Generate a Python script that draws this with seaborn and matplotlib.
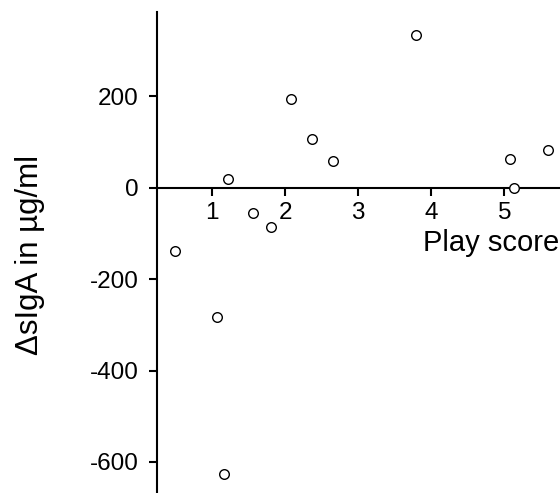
import matplotlib
matplotlib.use("Agg")
import matplotlib.pyplot as plt
import seaborn as sns
import pandas as pd

play_score = [0.49, 1.07, 1.16, 1.22, 1.56, 1.81, 2.08, 2.37, 2.66, 3.79, 5.07, 5.13, 5.60]
delta_siga = [-138, -283, -626, 20, -55, -86, 195, 106, 58, 334, 62, 0, 83]
x_ticks = [1, 2, 3, 4, 5]
y_ticks = [-600, -400, -200, 0, 200]

df = pd.DataFrame({"Play score": play_score, "dsiga": delta_siga})

sns.set_style("white")
plt.rcParams['font.family'] = ['Liberation Sans', 'DejaVu Sans']
plt.rcParams['axes.unicode_minus'] = False
plt.rcParams['text.color'] = 'black'

fig = plt.figure(figsize=(5.6, 4.93), dpi=100)
ax = fig.add_axes([157.3 / 560, 0.0, 1 - 157.3 / 560, 1 - 12.3 / 493])

sns.scatterplot(data=df, x="Play score", y="dsiga", ax=ax, marker="o",
                s=48, facecolor="white", edgecolor="black", linewidth=1.0,
                zorder=3, clip_on=False)

ax.set_xlim(0.25, 5.76)
ax.set_ylim(-668, 384)

ax.spines['right'].set_visible(False)
ax.spines['top'].set_visible(False)
ax.spines['bottom'].set_position(('data', 0))
for sp in ['left', 'bottom']:
    ax.spines[sp].set_linewidth(1.5)
    ax.spines[sp].set_color('black')

ax.set_xticks(x_ticks)
ax.set_yticks(y_ticks)
ax.set_yticklabels([str(v) for v in y_ticks])
ax.tick_params(axis='both', direction='out', length=6, width=1.5, colors='black',
               labelcolor='black', labelsize=17.5, bottom=True, left=True)
ax.tick_params(axis='x', pad=4)
ax.tick_params(axis='y', pad=7.5)

ax.set_xlabel("")
ax.set_ylabel("")
fig.text(423 / 560, 1 - 243 / 493, "Play score", fontsize=21, ha='left', va='center', color='black')
fig.text(30 / 560, 1 - 255 / 493, "ΔsIgA in µg/ml", fontsize=22.5, ha='center', va='center',
         rotation=90, color='black')

fig.savefig("out.png", dpi=100, facecolor="white")
